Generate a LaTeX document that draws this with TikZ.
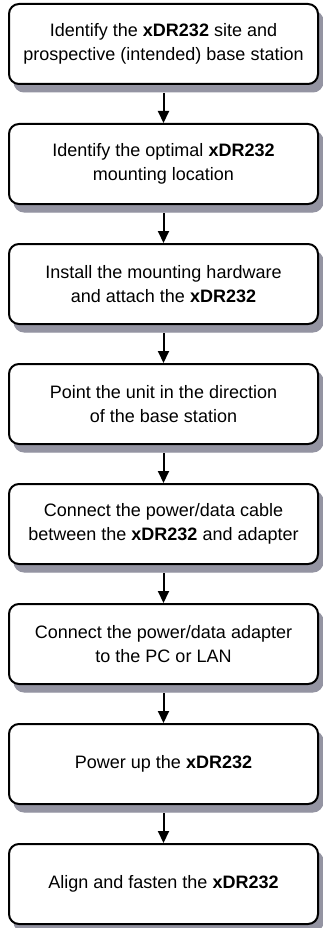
\documentclass[tikz,border=0pt]{standalone}
\usepackage{fontspec}
\setmainfont{Liberation Sans}
\usetikzlibrary{arrows.meta}
\definecolor{shadowgray}{RGB}{148,148,162}
\begin{document}
\begin{tikzpicture}[x=1pt,y=-1pt,
  stepbox/.style={draw, line width=2pt, rounded corners=10pt, fill=white,
    minimum width=309pt, minimum height=80pt, align=center, inner sep=0pt,
    font=\fontsize{18}{24}\selectfont},
  shadowbox/.style={fill=shadowgray, draw=shadowgray, line width=1pt, rounded corners=10pt},
  arr/.style={line width=2pt, -{Triangle[length=12pt,width=11pt]}}]
\fill[white] (0,0) rectangle (323,928);
\useasboundingbox (0,0) rectangle (323,928);
\filldraw[shadowbox] (14,11) rectangle (323,92);
\filldraw[shadowbox] (14,131) rectangle (323,212);
\filldraw[shadowbox] (14,251) rectangle (323,332);
\filldraw[shadowbox] (14,371) rectangle (323,452);
\filldraw[shadowbox] (14,491) rectangle (323,572);
\filldraw[shadowbox] (14,611) rectangle (323,692);
\filldraw[shadowbox] (14,731) rectangle (323,812);
\filldraw[shadowbox] (14,851) rectangle (323,932);
\node[stepbox] (b1) at (163.5,44) {Identify the \textbf{xDR232} site and\\prospective (intended) base station};
\node[stepbox] (b2) at (163.5,164) {Identify the optimal \textbf{xDR232}\\mounting location};
\node[stepbox] (b3) at (163.5,284) {Install the mounting hardware\\and attach the \textbf{xDR232}};
\node[stepbox] (b4) at (163.5,404) {Point the unit in the direction\\of the base station};
\node[stepbox] (b5) at (163.5,524) {Connect the power/data cable\\between the \textbf{xDR232} and adapter};
\node[stepbox] (b6) at (163.5,644) {Connect the power/data adapter\\to the PC or LAN};
\node[stepbox] (b7) at (163.5,764) {Power up the \textbf{xDR232}};
\node[stepbox] (b8) at (163.5,884) {Align and fasten the \textbf{xDR232}};
\draw[arr] ([yshift=-8pt]b1.south) -- (b2.north);
\draw[arr] ([yshift=-8pt]b2.south) -- (b3.north);
\draw[arr] ([yshift=-8pt]b3.south) -- (b4.north);
\draw[arr] ([yshift=-8pt]b4.south) -- (b5.north);
\draw[arr] ([yshift=-8pt]b5.south) -- (b6.north);
\draw[arr] ([yshift=-8pt]b6.south) -- (b7.north);
\draw[arr] ([yshift=-8pt]b7.south) -- (b8.north);
\end{tikzpicture}
\end{document}
